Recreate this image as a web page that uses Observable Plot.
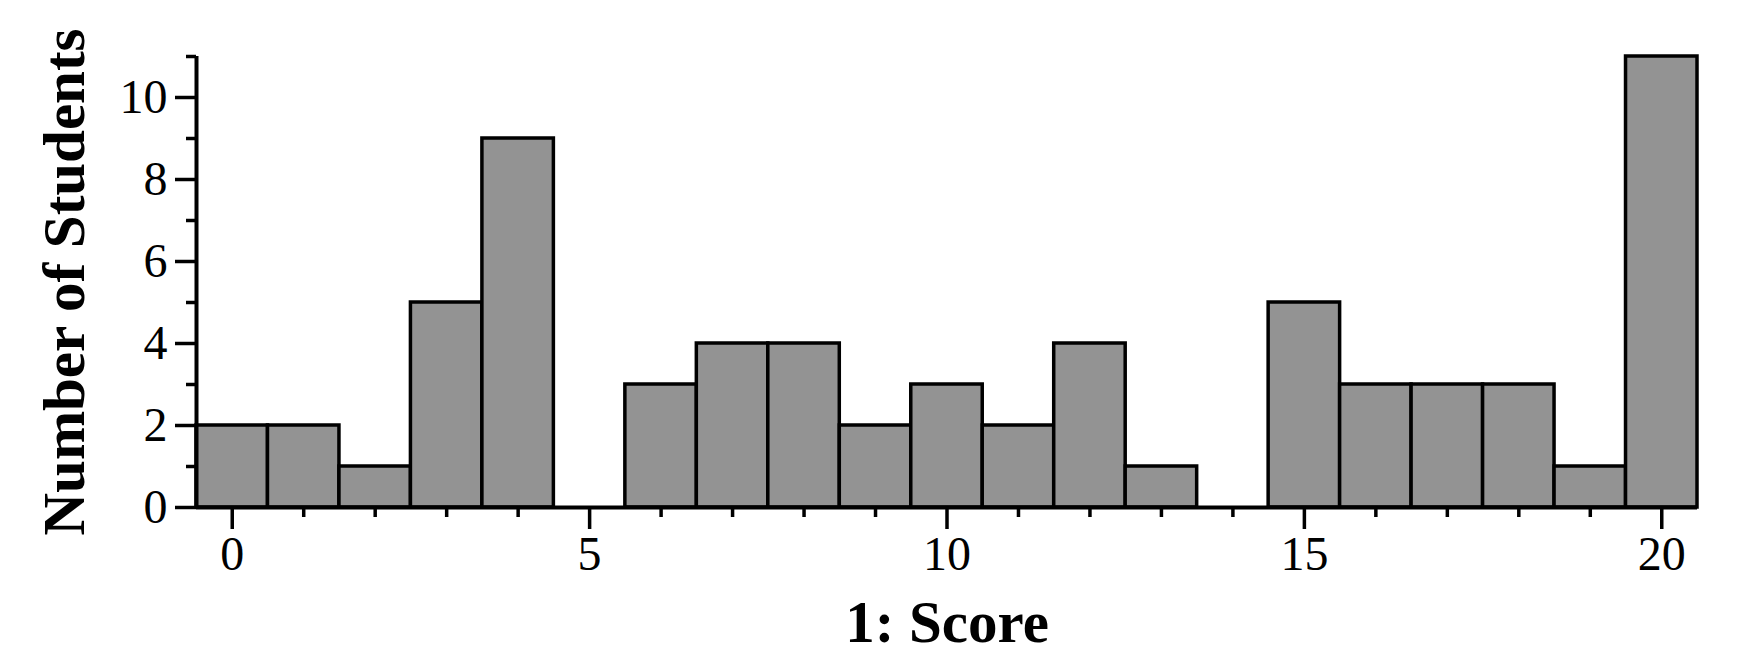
<!DOCTYPE html>
<html>
<head>
<meta charset="utf-8">
<script src="https://cdn.jsdelivr.net/npm/d3@7"></script>
<script src="https://cdn.jsdelivr.net/npm/@observablehq/plot@0.6"></script>
<style>
  html, body { margin: 0; padding: 0; background: #fff; }
</style>
</head>
<body>
<div id="chart"></div>
<script>
const scores = [0,1,2,3,4,5,6,7,8,9,10,11,12,13,14,15,16,17,18,19,20];
const students = [2,2,1,5,9,0,3,4,4,2,3,2,4,1,0,5,3,3,3,1,11];
const xMajorTicks = [0,5,10,15,20];
const xMinorTicks = [1,2,3,4,6,7,8,9,11,12,13,14,16,17,18,19];
const yMajorTicks = [0,2,4,6,8,10];
const yMinorTicks = [1,3,5,7,9,11];
const xTitle = "1: Score";
const yTitle = "Number of Students";

const data = scores.map((s, i) => ({score: s, count: students[i]})).filter(d => d.count > 0);

const chart = Plot.plot({
  width: 1743,
  height: 671,
  marginLeft: 196,
  marginRight: 46,
  marginTop: 56,
  marginBottom: 164,
  style: {fontFamily: "'Liberation Serif', 'Times New Roman', serif", background: "#fff", color: "#000"},
  x: {domain: [-0.5, 20.5], axis: null},
  y: {domain: [0, 11], axis: null},
  marks: [
    Plot.rectY(data, {
      x1: d => d.score - 0.5,
      x2: d => d.score + 0.5,
      y: "count",
      fill: "#939393",
      stroke: "#000",
      strokeWidth: 3.5,
      inset: 0
    }),
    Plot.ruleY([0], {x1: -0.5, x2: 20.5, stroke: "#000", strokeWidth: 4}),
    Plot.ruleX([-0.5], {y1: 0, y2: 11, stroke: "#000", strokeWidth: 4}),
    Plot.axisX(xMinorTicks, {tickSize: 10, strokeWidth: 3.5, text: null, label: null}),
    Plot.axisX(xMajorTicks, {tickSize: 22, tickPadding: 6, strokeWidth: 3.5, fontSize: 48, label: null, tickFormat: d => String(d)}),
    Plot.axisY(yMinorTicks, {tickSize: 10, strokeWidth: 3.5, text: null, label: null}),
    Plot.axisY(yMajorTicks, {tickSize: 21, tickPadding: 8, strokeWidth: 3.5, fontSize: 48, label: null, tickFormat: d => String(d)}),
    Plot.text([xTitle], {frameAnchor: "bottom", lineAnchor: "bottom", textAnchor: "middle", dy: 134, fontSize: 59, fontWeight: "bold", fill: "#000"}),
    Plot.text([yTitle], {frameAnchor: "left", lineAnchor: "bottom", textAnchor: "middle", rotate: -90, dx: -113, fontSize: 59, fontWeight: "bold", fill: "#000"})
  ]
});
document.getElementById("chart").appendChild(chart);
</script>
</body>
</html>
